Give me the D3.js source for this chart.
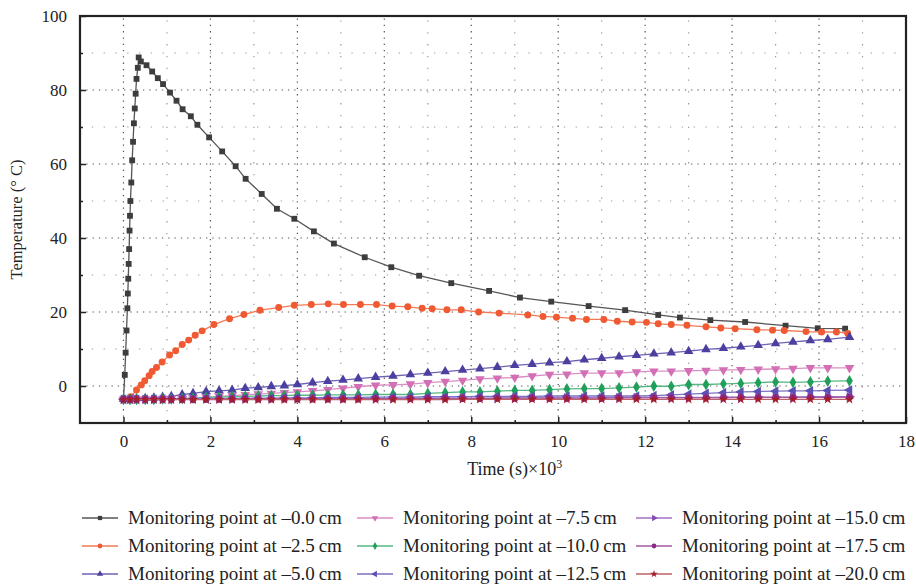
<!DOCTYPE html>
<html lang="en">
<head>
    <meta charset="UTF-8">
    <title>Temperature at monitoring points</title>
    <script src="https://cdn.jsdelivr.net/npm/d3@7"></script>
</head>
<style>
    body { margin: 0; background: #fff; }
    svg { font-family: "Liberation Serif", "DejaVu Serif", serif; }
</style>
<body>
<div id="chart"></div>
<script>
    // series at -0.0 cm has its own time steps (very steep start)
    const time0 = [0, 0.03, 0.05, 0.07, 0.09, 0.1, 0.11, 0.12, 0.13, 0.14, 0.15, 0.16, 0.18, 0.2, 0.22, 0.24, 0.26, 0.28, 0.3, 0.33, 0.35,
        0.4, 0.53, 0.66, 0.79, 0.91, 1.07, 1.22, 1.36, 1.55, 1.7, 1.97, 2.27, 2.58, 2.81, 3.18, 3.53, 3.93, 4.38, 4.84, 5.55,
        6.16, 6.8, 7.54, 8.41, 9.12, 9.84, 10.7, 11.54, 12.3, 12.8, 13.5, 14.3, 15.23, 15.97, 16.6]
    const temp0 = [-3.5, 3, 9, 15, 21, 25, 29, 33, 37, 42, 46, 50, 55, 61, 66, 71, 75, 79, 83, 86, 88.8,
        87.7, 86.7, 85, 83.2, 81.6, 79.3, 77.1, 74.8, 72.9, 70.6, 67.2, 63.4, 59.4, 56, 51.9, 47.9, 45.2, 41.8, 38.5, 34.8,
        32.1, 29.8, 27.8, 25.7, 23.9, 22.8, 21.6, 20.5, 19.2, 18.5, 17.8, 17.3, 16.3, 15.6, 15.5]

    const time25 = [0.17, 0.3, 0.41, 0.49, 0.59, 0.66, 0.76, 0.89, 1.06, 1.2, 1.35, 1.5, 1.65, 1.81, 2.08, 2.44, 2.77, 3.14, 3.57,
        3.93, 4.32, 4.71, 5.06, 5.45, 5.82, 6.18, 6.54, 6.87, 7.1, 7.44, 7.77, 8.17, 8.64, 9.3, 9.65, 9.96, 10.33, 10.65,
        11.05, 11.36, 11.7, 12.03, 12.3, 12.6, 12.96, 13.4, 13.74, 14.07, 14.57, 14.93, 15.2, 15.7, 16.06, 16.4, 16.66]
    const temp25 = [-2.9, -1.1, 0.3, 1.4, 2.8, 3.9, 5, 6.5, 8.4, 9.5, 11.2, 12.4, 13.7, 14.9, 16.6, 18.2, 19.3, 20.5, 21.2,
        21.8, 22, 22.2, 22, 22, 22, 21.6, 21.4, 21, 20.9, 20.6, 20.6, 20, 19.7, 19.2, 18.8, 18.6, 18.3, 18,
        18, 17.5, 17.3, 17.2, 16.8, 16.6, 16.4, 16, 15.7, 15.5, 15.2, 15.1, 15, 14.7, 14.6, 14.6, 14.2]

    // deeper points share the same time steps
    const timeLow = [0, 0.15, 0.3, 0.5, 0.7, 0.9, 1.1, 1.35, 1.6, 1.9, 2.2, 2.5, 2.8, 3.1, 3.4, 3.7, 4.0, 4.35, 4.7, 5.05, 5.4,
        5.8, 6.2, 6.6, 7.0, 7.4, 7.8, 8.2, 8.6, 9.0, 9.4, 9.8, 10.2, 10.6, 11.0, 11.4, 11.8, 12.2, 12.6, 13.0, 13.4,
        13.8, 14.2, 14.6, 15.0, 15.4, 15.8, 16.2, 16.7]
    const temp50 = [-3.5, -3.5, -3.4, -3.3, -3.2, -3.0, -2.8, -2.3, -2.0, -1.5, -1.3, -1.1, -0.6, -0.4, -0.1, 0.1, 0.4, 0.9, 1.3, 1.6, 2.0,
        2.4, 2.7, 3.1, 3.5, 3.9, 4.3, 4.7, 5.1, 5.6, 5.9, 6.3, 6.6, 7.1, 7.5, 7.9, 8.3, 8.7, 9.0, 9.4, 9.9,
        10.2, 10.6, 11.0, 11.5, 11.9, 12.3, 12.6, 13.2]
    const temp75 = [-3.6, -3.6, -3.6, -3.5, -3.5, -3.4, -3.4, -3.3, -3.2, -3.0, -2.8, -2.6, -2.4, -2.2, -2.0, -1.8, -1.6, -1.3, -1.0, -0.6, -0.2,
        0.2, 0.3, 0.5, 0.9, 1.2, 1.5, 1.9, 2.1, 2.3, 2.7, 3.1, 3.2, 3.5, 3.5, 3.5, 3.8, 4.0, 4.0, 4.1, 4.2,
        4.3, 4.4, 4.5, 4.6, 4.7, 4.9, 4.9, 4.9]
    const temp100 = [-3.6, -3.6, -3.6, -3.6, -3.6, -3.5, -3.5, -3.4, -3.3, -3.1, -3.0, -2.9, -2.8, -2.7, -2.6, -2.6, -2.5, -2.5, -2.4, -2.4, -2.4,
        -2.3, -2.3, -2.3, -2.0, -1.8, -1.6, -1.6, -1.4, -1.2, -1.2, -1.0, -0.8, -0.7, -0.7, -0.5, -0.3, 0.0, -0.1, 0.4, 0.4,
        0.6, 0.7, 0.9, 1.1, 1.0, 1.1, 1.3, 1.4]
    const temp125 = [-3.6, -3.6, -3.6, -3.6, -3.5, -3.5, -3.5, -3.5, -3.5, -3.4, -3.4, -3.4, -3.3, -3.3, -3.3, -3.2, -3.2, -3.2, -3.1, -3.1, -3.1,
        -3.0, -3.0, -3.0, -2.9, -2.9, -2.9, -2.8, -2.8, -2.8, -2.8, -2.7, -2.7, -2.7, -2.7, -2.7, -2.7, -2.6, -2.4, -2.2, -2.0,
        -1.8, -1.6, -1.5, -1.4, -1.3, -1.3, -1.2, -1.1]
    const temp150 = [-3.6, -3.6, -3.6, -3.6, -3.6, -3.6, -3.6, -3.5, -3.5, -3.5, -3.5, -3.5, -3.5, -3.5, -3.5, -3.4, -3.4, -3.4, -3.4, -3.4, -3.4,
        -3.4, -3.3, -3.3, -3.3, -3.3, -3.3, -3.3, -3.3, -3.2, -3.2, -3.2, -3.2, -3.2, -3.2, -3.1, -3.1, -3.1, -3.1, -3.1, -3.1,
        -3.0, -3.0, -3.0, -3.0, -3.0, -2.9, -2.9, -2.9]
    const temp175 = [-3.6, -3.6, -3.6, -3.6, -3.6, -3.6, -3.6, -3.6, -3.6, -3.6, -3.6, -3.5, -3.5, -3.5, -3.5, -3.5, -3.5, -3.5, -3.5, -3.5, -3.5,
        -3.4, -3.4, -3.4, -3.4, -3.4, -3.4, -3.4, -3.3, -3.3, -3.3, -3.3, -3.3, -3.3, -3.3, -3.2, -3.2, -3.2, -3.2, -3.2, -3.2,
        -3.2, -3.1, -3.1, -3.1, -3.1, -3.1, -3.1, -3.0]
    const temp200 = [-3.7, -3.7, -3.7, -3.7, -3.7, -3.7, -3.7, -3.7, -3.7, -3.7, -3.7, -3.7, -3.7, -3.7, -3.7, -3.7, -3.7, -3.7, -3.7, -3.7, -3.7,
        -3.7, -3.7, -3.7, -3.7, -3.7, -3.6, -3.6, -3.6, -3.6, -3.6, -3.6, -3.6, -3.6, -3.6, -3.6, -3.6, -3.6, -3.6, -3.6, -3.6,
        -3.6, -3.6, -3.6, -3.6, -3.6, -3.6, -3.6, -3.6]

    const depths = ["0.0", "2.5", "5.0", "7.5", "10.0", "12.5", "15.0", "17.5", "20.0"]
    const colors = ["#3d3d3d", "#ef5a33", "#4b3f9f", "#d26fb5", "#1f9f5a", "#5a4fb2", "#8646b0", "#8b2a88", "#a21d2d"]
    const lineColors = ["#555555", "#f47a56", "#6d62b3", "#dc8ec6", "#55b883", "#7c72c3", "#a171c4", "#a35aa1", "#c0606a"]
    const shapes = ["square", "circle", "up", "down", "diamond", "left", "right", "circle", "star"]

    const series = [
        d3.zip(time0, temp0), d3.zip(time25, temp25),
        d3.zip(timeLow, temp50), d3.zip(timeLow, temp75), d3.zip(timeLow, temp100),
        d3.zip(timeLow, temp125), d3.zip(timeLow, temp150), d3.zip(timeLow, temp175), d3.zip(timeLow, temp200)
    ]

    const W = 916, H = 584
    const margin = {top: 16, right: 10, bottom: 161, left: 80}
    const svg = d3.select("#chart").append("svg").attr("width", W).attr("height", H)

    const x = d3.scaleLinear().domain([-1, 18]).range([margin.left, W - margin.right])
    const y = d3.scaleLinear().domain([-10, 100]).range([H - margin.bottom, margin.top])
    const [x0, x1] = x.range()
    const [y0, y1] = y.range()

    // dotted grid
    const grid = svg.append("g")
    const majX = d3.range(0, 17, 2), minX = d3.range(1, 18, 2)
    const majY = d3.range(0, 81, 20), minY = d3.range(10, 91, 20)
    const gridLine = (g, vals, vertical, major) => g.selectAll(null).data(vals).enter().append("line")
        .attr("x1", d => vertical ? x(d) : x0).attr("x2", d => vertical ? x(d) : x1)
        .attr("y1", d => vertical ? y0 : y(d)).attr("y2", d => vertical ? y1 : y(d))
        .attr("stroke", major ? "#555" : "#999")
        .attr("stroke-width", 1.2)
        .attr("stroke-dasharray", major ? "1.3,5" : "1.3,10.5")
    gridLine(grid, majX, true, true)
    gridLine(grid, minX, true, false)
    gridLine(grid, majY, false, true)
    gridLine(grid, minY, false, false)

    // axes, ticks pointing inwards
    const xAxis = d3.axisBottom(x).tickValues(d3.range(0, 19, 2)).tickSizeInner(-6).tickSizeOuter(0).tickPadding(12)
    const xMinor = d3.axisBottom(x).tickValues(minX).tickSize(-3).tickFormat("")
    const yAxis = d3.axisLeft(y).tickValues(d3.range(0, 101, 20)).tickSizeInner(-6).tickSizeOuter(0).tickPadding(13)
    const yMinor = d3.axisLeft(y).tickValues(minY).tickSize(-3).tickFormat("")

    const styleAxis = g => {
        g.attr("font-family", null)
        g.select(".domain").remove()
        g.selectAll("line").attr("stroke", "#222").attr("stroke-width", 1.5)
        g.selectAll("text").attr("font-size", 17).attr("fill", "#222")
    }
    svg.append("g").attr("transform", `translate(0,${y0})`).call(xAxis).call(styleAxis)
    svg.append("g").attr("transform", `translate(0,${y0})`).call(xMinor).call(styleAxis)
    svg.append("g").attr("transform", `translate(${x0},0)`).call(yAxis).call(styleAxis)
    svg.append("g").attr("transform", `translate(${x0},0)`).call(yMinor).call(styleAxis)

    svg.append("rect")
        .attr("x", x0).attr("y", y1).attr("width", x1 - x0).attr("height", y0 - y1)
        .attr("fill", "none").attr("stroke", "#222").attr("stroke-width", 2.2)

    // axis titles
    svg.append("text")
        .attr("x", (x(0) + x(18)) / 2).attr("y", 475)
        .attr("text-anchor", "middle").attr("font-size", 18).attr("fill", "#222")
        .html('Time (s)×10<tspan dy="-7" font-size="12">3</tspan>')
    svg.append("text")
        .attr("transform", `translate(22,${(y0 + y1) / 2}) rotate(-90)`)
        .attr("text-anchor", "middle").attr("font-size", 16.5).attr("fill", "#222")
        .text("Temperature (° C)")

    // markers
    const symbolFor = (shape, size) => {
        const type = {square: d3.symbolSquare, circle: d3.symbolCircle, up: d3.symbolTriangle,
            down: d3.symbolTriangle, left: d3.symbolTriangle, right: d3.symbolTriangle,
            diamond: d3.symbolDiamond, star: d3.symbolStar}[shape]
        return d3.symbol().type(type).size(size)()
    }
    const rotation = {down: 180, left: -90, right: 90}

    const line = d3.line().x(d => x(d[0])).y(d => y(d[1]))
    series.forEach((data, i) => {
        const g = svg.append("g")
        g.append("path").datum(data)
            .attr("fill", "none").attr("stroke", lineColors[i]).attr("stroke-width", 1.3)
            .attr("d", line)
        const size = shapes[i] === "circle" ? 38 : shapes[i] === "star" ? 30 : shapes[i] === "square" ? 34 : 40
        g.selectAll("path.mk").data(data).enter().append("path")
            .attr("class", "mk")
            .attr("d", symbolFor(shapes[i], size))
            .attr("transform", d => `translate(${x(d[0])},${y(d[1])}) rotate(${rotation[shapes[i]] || 0})`)
            .attr("fill", colors[i])
    })

    // legend, three columns
    const legend = svg.append("g")
    const colX = [82, 357, 636], rowY = [518, 546, 574]
    depths.forEach((d, i) => {
        const cx = colX[Math.floor(i / 3)], cy = rowY[i % 3]
        const item = legend.append("g").attr("transform", `translate(${cx},${cy})`)
        item.append("line").attr("x1", 0).attr("x2", 36).attr("y1", 0).attr("y2", 0)
            .attr("stroke", lineColors[i]).attr("stroke-width", 1.5)
        item.append("path").attr("d", symbolFor(shapes[i], 18))
            .attr("transform", `translate(18,0) rotate(${rotation[shapes[i]] || 0})`)
            .attr("fill", colors[i])
        item.append("text").attr("x", 46).attr("y", 0).attr("dy", "0.33em")
            .attr("font-size", 19).attr("fill", "#222")
            .text(`Monitoring point at –${d}\u2009cm`)
    })
</script>
</body>
</html>
